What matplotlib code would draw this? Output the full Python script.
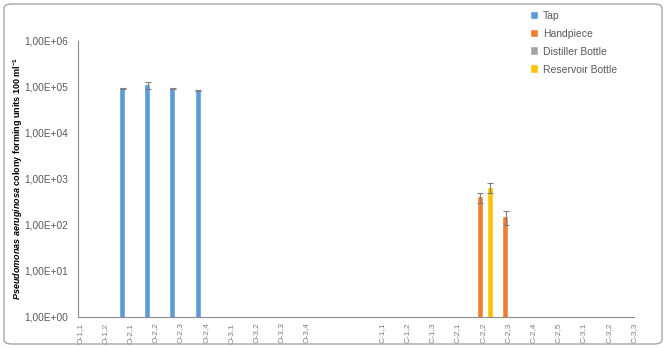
import numpy as np
import matplotlib
matplotlib.use("Agg")
import matplotlib.pyplot as plt
from matplotlib.patches import FancyBboxPatch
from matplotlib.ticker import FixedLocator, FuncFormatter

plt.rcParams['font.family'] = ['Liberation Sans', 'DejaVu Sans']
plt.rcParams['mathtext.fontset'] = 'custom'
plt.rcParams['mathtext.rm'] = 'Liberation Sans'
plt.rcParams['mathtext.it'] = 'Liberation Sans:italic'
plt.rcParams['mathtext.bf'] = 'Liberation Sans:bold'
plt.rcParams['mathtext.bfit'] = 'Liberation Sans:italic:bold'

categories = ["O-1,1", "O-1,2", "O-2,1", "O-2,2", "O-2,3", "O-2,4",
              "O-3,1", "O-3,2", "O-3,3", "O-3,4", "", "",
              "C-1,1", "C-1,2", "C-1,3", "C-2,1", "C-2,2", "C-2,3",
              "C-2,4", "C-2,5", "C-3,1", "C-3,2", "C-3,3"]
series_names = ["Tap", "Handpiece", "Distiller Bottle", "Reservoir Bottle"]
colors = ["#5B9BD5", "#ED7D31", "#A5A5A5", "#FFC000"]

nan = np.nan
tap = [nan, nan, 93000, 110000, 94000, 84000, nan, nan, nan, nan, nan, nan,
       nan, nan, nan, nan, nan, nan, nan, nan, nan, nan, nan]
tap_err = [0, 0, 2000, 20000, 2000, 2000, 0, 0, 0, 0, 0, 0,
           0, 0, 0, 0, 0, 0, 0, 0, 0, 0, 0]
handpiece = [nan] * 16 + [400, 150] + [nan] * 5
handpiece_err = [0] * 16 + [100, 50] + [0] * 5
distiller = [nan] * 23
distiller_err = [0] * 23
reservoir = [nan] * 16 + [650] + [nan] * 6
reservoir_err = [0] * 16 + [160] + [0] * 6

values = [tap, handpiece, distiller, reservoir]
errors = [tap_err, handpiece_err, distiller_err, reservoir_err]

fig = plt.figure(figsize=(6.66, 3.48), dpi=100)
ax = fig.add_axes([78 / 666, 1 - 317 / 348, (634 - 78) / 666, (317 - 41) / 348])

x = np.arange(len(categories))
w = 0.2
offsets = [-1.5 * w, -0.5 * w, 0.5 * w, 1.5 * w]
for vals, errs, name, c, off in zip(values, errors, series_names, colors, offsets):
    v = np.array(vals, dtype=float)
    e = np.array(errs, dtype=float)
    ax.bar(x + off, np.nan_to_num(v, nan=0.0), width=w, color=c, label=name,
           edgecolor='white', linewidth=0.3)
    mask = ~np.isnan(v)
    if mask.any():
        ax.errorbar(x[mask] + off, v[mask], yerr=e[mask], fmt='none',
                    ecolor='#7F7F7F', elinewidth=0.8, capsize=2, capthick=0.8)

ax.set_yscale('log')
ax.set_ylim(1, 1e6)
ax.set_xlim(-0.07, len(categories) - 1)
ax.yaxis.set_major_locator(FixedLocator([10.0 ** k for k in range(7)]))
ax.yaxis.set_minor_locator(FixedLocator([]))
ax.yaxis.set_major_formatter(FuncFormatter(lambda v, p: "1,00E+%02d" % int(round(np.log10(v)))))
ax.set_xticks(x)
ax.set_xticklabels(categories, rotation=90, fontsize=6, color='#7F7F7F')
ax.tick_params(axis='y', length=0, labelsize=7.3, labelcolor='#595959', pad=7)
ax.tick_params(axis='x', length=0, pad=4)
for s in ['top', 'right']:
    ax.spines[s].set_visible(False)
for s in ['left', 'bottom']:
    ax.spines[s].set_color('#8C8C8C')
    ax.spines[s].set_linewidth(0.8)

ax.set_ylabel(r"$\mathbfit{Pseudomonas\ aeruginosa}$ colony forming units 100 ml$^{\mathbf{-1}}$",
              fontsize=6.5, fontweight='bold', color='black')
ax.yaxis.set_label_coords(-0.095, 0.503)

leg = fig.legend(loc='upper left', bbox_to_anchor=(527 / 666, 1 - 7 / 348),
                 frameon=False, fontsize=7.5, handlelength=0.7, handleheight=0.7,
                 handletextpad=0.4, labelspacing=0.75, borderaxespad=0)
for t in leg.get_texts():
    t.set_color('#595959')

border = FancyBboxPatch((4 / 666, 4 / 348), 658 / 666, 340 / 348,
                        boxstyle="round,pad=0,rounding_size=0.012",
                        transform=fig.transFigure, fill=False,
                        edgecolor='#A6A6A6', linewidth=1.0)
fig.patches.append(border)

fig.savefig("out.png", dpi=100)
